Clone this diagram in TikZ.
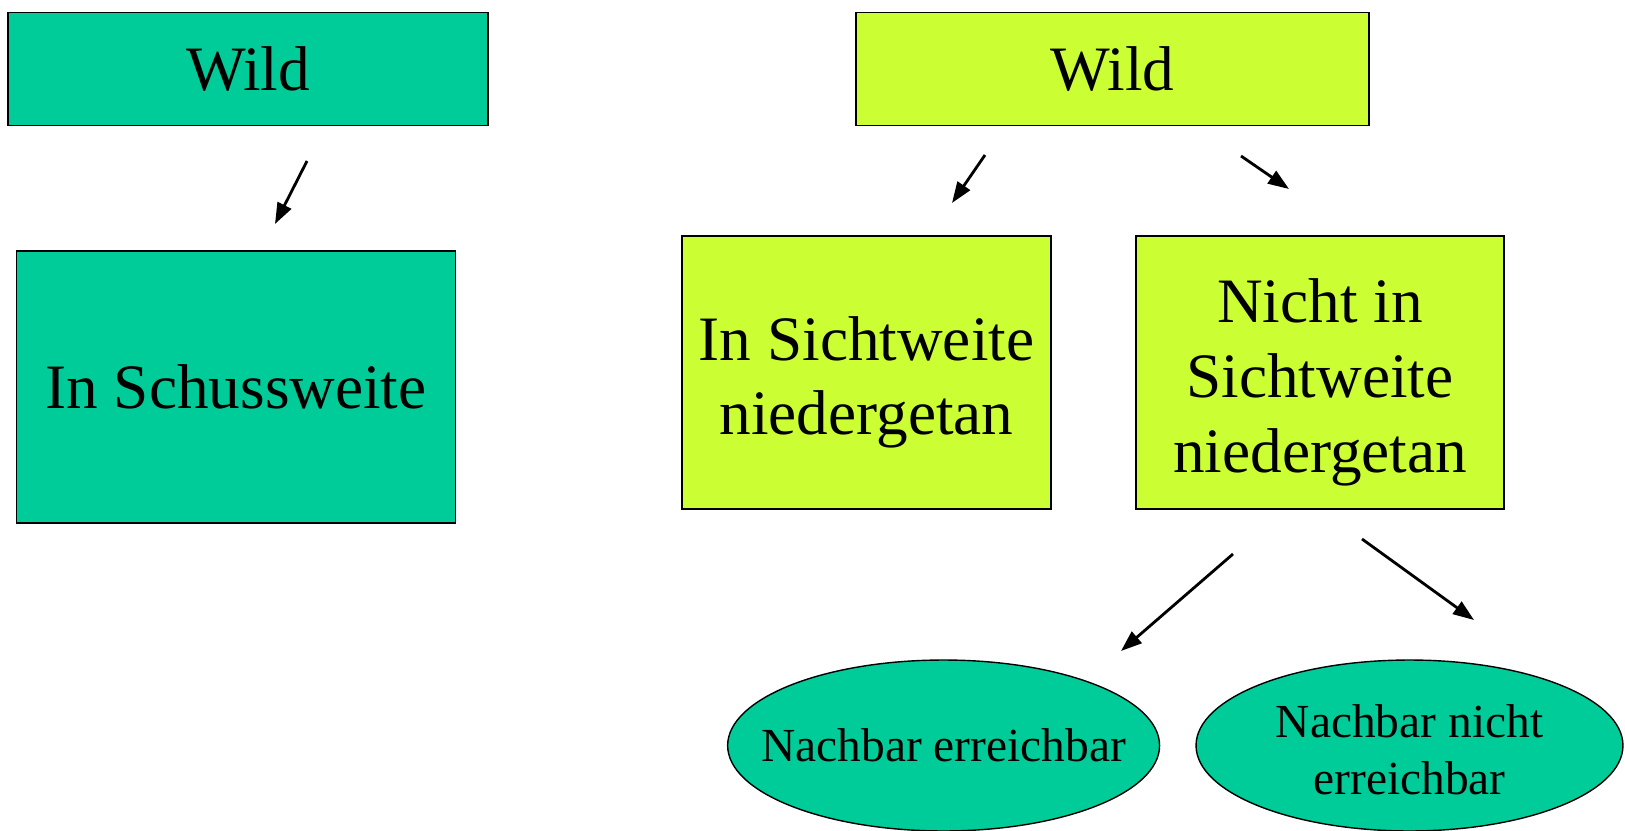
\documentclass[tikz,border=0pt]{standalone}
\usepackage{fontspec}
\setmainfont{Liberation Serif}
\usepackage{tikz}
\usetikzlibrary{shapes.geometric}
\usetikzlibrary{arrows.meta}

\definecolor{teal}{RGB}{0,204,153}
\definecolor{lime}{RGB}{204,255,51}

\tikzset{
    box/.style={draw, line width=0.8pt, inner sep=0pt, align=center,
        font=\fontsize{36}{42.5}\selectfont},
    boxtext/.style={align=center, inner sep=0pt, yshift=-0.2cm,
        font=\fontsize{36}{42.5}\selectfont},
    oval/.style={draw, ellipse, fill=teal, line width=0.8pt, inner sep=0pt,
        minimum height=3.42cm},
    ovaltext/.style={align=center, inner sep=0pt, font=\fontsize{27}{32.5}\selectfont},
    pfeil/.style={-{Triangle[length=0.42cm, width=0.3cm]}, line width=1.6pt}
}

\begin{document}
\begin{tikzpicture}[x=0.02cm, y=-0.02cm]
        \useasboundingbox (0, 0) rectangle (1625, 831);

        % left part
        \node[box, fill=teal, minimum width=9.6cm, minimum height=2.26cm] (wildL) at (248, 69) {Wild};
        \node[box, fill=teal, minimum width=8.79cm, minimum height=5.44cm] (schuss) at (236, 387) {In Schussweite};

        % right part
        \node[box, fill=lime, minimum width=10.26cm, minimum height=2.26cm] (wildR) at (1112.5, 69) {Wild};
        \node[box, fill=lime, minimum width=7.38cm, minimum height=5.46cm,
            label={[boxtext]center:In Sichtweite\\niedergetan}] (sicht) at (866.5, 372.5) {};
        \node[box, fill=lime, minimum width=7.36cm, minimum height=5.46cm,
            label={[boxtext]center:Nicht in\\Sichtweite\\niedergetan}] (nicht) at (1320, 372.5) {};
        \node[oval, minimum width=8.64cm, label={[ovaltext]center:Nachbar erreichbar}] (erreich) at (943.6, 745.5) {};
        \node[oval, minimum width=8.54cm, label={[ovaltext, yshift=-0.08cm]center:Nachbar nicht\\erreichbar}] (nerreich) at (1409.5, 745.5) {};

        % arrows
        \coordinate (a1) at (307, 161);  \coordinate (b1) at (275, 224);
        \coordinate (a2) at (985, 155);  \coordinate (b2) at (952, 203);
        \coordinate (a3) at (1241, 156); \coordinate (b3) at (1289, 189);
        \coordinate (a4) at (1233, 554); \coordinate (b4) at (1121, 651);
        \coordinate (a5) at (1362, 539); \coordinate (b5) at (1474, 620);
        \foreach \i in {1,...,5}
            \draw[pfeil] (a\i) -- (b\i);
    \end{tikzpicture}
\end{document}
